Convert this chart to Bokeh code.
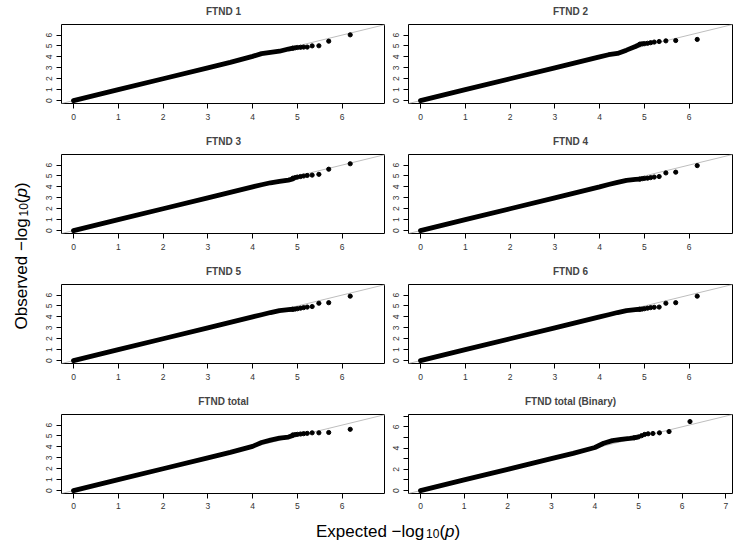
import math
from bokeh.plotting import figure
from bokeh.layouts import gridplot, row, column
from bokeh.models import Range1d, FixedTicker, Slope
from bokeh.core.properties import value
from bokeh.embed import file_html
from bokeh.resources import INLINE

FONT = "Liberation Sans"

titles = ["FTND 1", "FTND 2", "FTND 3", "FTND 4",
          "FTND 5", "FTND 6", "FTND total", "FTND total (Binary)"]

# expected -log10(p) of the densest part (band) and of the top SNPs (tail)
band_x = [0.0, 1.0, 2.0, 3.0, 3.5, 4.0, 4.2, 4.4, 4.6, 4.8, 4.9]
tail_x = [6.18, 5.70, 5.48, 5.33, 5.22, 5.14, 5.07, 5.00, 4.95, 4.90]

band_y = [
    [0.0, 1.0, 2.0, 3.0, 3.5, 4.05, 4.30, 4.42, 4.52, 4.72, 4.80],
    [0.0, 1.0, 2.0, 3.0, 3.5, 4.00, 4.20, 4.32, 4.62, 4.95, 5.15],
    [0.0, 1.0, 2.0, 3.0, 3.5, 4.00, 4.20, 4.38, 4.50, 4.62, 4.72],
    [0.0, 1.0, 2.0, 3.0, 3.5, 4.00, 4.22, 4.42, 4.60, 4.68, 4.72],
    [0.0, 1.0, 2.0, 3.0, 3.5, 4.00, 4.20, 4.40, 4.58, 4.66, 4.70],
    [0.0, 1.0, 2.0, 3.0, 3.5, 4.00, 4.20, 4.40, 4.58, 4.66, 4.70],
    [0.0, 1.0, 2.0, 3.0, 3.5, 4.05, 4.40, 4.62, 4.80, 4.90, 5.05],
    [0.0, 1.0, 2.0, 3.0, 3.5, 4.05, 4.45, 4.70, 4.82, 4.90, 4.95],
]
tail_y = [
    [6.02, 5.44, 5.02, 5.01, 4.90, 4.90, 4.88, 4.86, 4.83, 4.80],
    [5.60, 5.50, 5.47, 5.41, 5.36, 5.30, 5.25, 5.22, 5.20, 5.17],
    [6.12, 5.62, 5.15, 5.08, 5.05, 5.00, 4.95, 4.90, 4.85, 4.80],
    [5.95, 5.35, 5.28, 4.95, 4.90, 4.85, 4.80, 4.78, 4.75, 4.72],
    [5.90, 5.30, 5.25, 4.95, 4.90, 4.85, 4.80, 4.75, 4.72, 4.70],
    [5.90, 5.30, 5.25, 4.90, 4.88, 4.85, 4.80, 4.75, 4.72, 4.70],
    [5.61, 5.32, 5.29, 5.29, 5.24, 5.21, 5.18, 5.15, 5.12, 5.10],
    [6.49, 5.55, 5.43, 5.37, 5.34, 5.28, 5.16, 5.05, 5.00, 4.97],
]

ticks_std = [0, 1, 2, 3, 4, 5, 6]
ticks_last = [0, 1, 2, 3, 4, 5, 6, 7]
y_labels_last = {1: "", 3: "", 5: "", 7: ""}
lim_std = (-0.268, 6.968)
lim_last = (-0.275, 7.155)

xlab_parts = ["Expected  \u2212log", "10", "(", "p", ")"]
ylab_parts = ["Observed  \u2212log", "10", "(", "p", ")"]

# Liberation Sans (Arial metrics) advance widths per 1000 em
ADV = {"E": 667, "x": 500, "p": 556, "e": 556, "c": 500, "t": 278, "d": 556,
       " ": 278, "\u2212": 584, "l": 222, "o": 556, "g": 556, "1": 556,
       "0": 556, "(": 333, ")": 333, "O": 778, "b": 556, "s": 500, "r": 333,
       "v": 500}


def tw(s, size):
    return sum(ADV.get(ch, 556) for ch in s) * size / 1000.0


FRAME_W, FRAME_H = 324, 83
LEFT_W = 31
TOP = 20
BOT = 27
BOT_LAST = 18
COL_BORDERS = [(30, 0), (23, 2)]


def style_axis(ax, standoff):
    ax.axis_line_color = None
    ax.major_tick_line_color = "black"
    ax.major_tick_line_width = 1
    ax.major_tick_out = 5
    ax.major_tick_in = 0
    ax.minor_tick_line_color = None
    ax.major_label_text_font = FONT
    ax.major_label_text_font_size = "8.5px"
    ax.major_label_text_color = "#333333"
    ax.major_label_standoff = standoff


def make_panel(i):
    r, c = divmod(i, 2)
    last = (i == 7)
    lim = lim_last if last else lim_std
    bl, br = COL_BORDERS[c]
    bb = BOT_LAST if r == 3 else BOT
    p = figure(width=bl + FRAME_W + br, height=TOP + FRAME_H + bb,
               x_range=Range1d(*lim), y_range=Range1d(*lim),
               output_backend="svg", toolbar_location=None,
               min_border_left=bl, min_border_right=br,
               min_border_top=TOP, min_border_bottom=bb)
    p.title.text = titles[i]
    p.title.align = "center"
    p.title.vertical_align = "top"
    p.title.text_font = FONT
    p.title.text_font_size = "10px"
    p.title.text_font_style = "bold"
    p.title.text_line_height = 0.8
    p.title.standoff = 11
    p.title.offset = 0
    p.xgrid.visible = False
    p.ygrid.visible = False
    p.outline_line_color = "black"
    p.outline_line_width = 1
    p.outline_line_alpha = 1
    p.background_fill_color = "white"
    p.border_fill_color = "white"
    p.xaxis.ticker = FixedTicker(ticks=ticks_last if last else ticks_std)
    p.yaxis.ticker = FixedTicker(ticks=ticks_last if last else ticks_std)
    if last:
        p.yaxis.major_label_overrides = y_labels_last
    style_axis(p.xaxis[0], 4 if r == 3 else 5)
    style_axis(p.yaxis[0], 4)
    p.yaxis.major_label_orientation = "vertical"
    diag = Slope(gradient=1, y_intercept=0, line_color="#bebebe",
                 line_width=1, level="underlay")
    p.add_layout(diag)
    p.line(band_x, band_y[i], line_width=4.8, line_color="black",
           line_cap="round", line_join="round")
    p.scatter(tail_x, tail_y[i], size=4.2, color="black")
    return p


panels = [make_panel(i) for i in range(8)]
grid = gridplot([panels[0:2], panels[2:4], panels[4:6], panels[6:8]],
                toolbar_location=None)

GRID_H = 3 * (TOP + FRAME_H + BOT) + (TOP + FRAME_H + BOT_LAST)
TOTAL_W = LEFT_W + sum(b[0] + FRAME_W + b[1] for b in COL_BORDERS)
LAB = 17
SUB = 12


def blank(w, h):
    f = figure(width=w, height=h, x_range=Range1d(0, w), y_range=Range1d(0, h),
               output_backend="svg", toolbar_location=None,
               x_axis_type=None, y_axis_type=None, min_border=0)
    f.xgrid.visible = False
    f.ygrid.visible = False
    f.outline_line_color = None
    f.background_fill_color = "white"
    f.border_fill_color = "white"
    return f


SUB_KERN = -2.8


def place_label(f, parts, centre, base, vertical):
    sizes = [LAB, SUB, LAB, LAB, LAB]
    widths = [tw(s, z) for s, z in zip(parts, sizes)]
    anchor = centre - sum(widths) / 2.0 + widths[0]
    # main part right-aligned at the anchor, the rest left-aligned after it
    pos = [anchor, anchor + SUB_KERN]
    acc = anchor + SUB_KERN + widths[1]
    for w in widths[2:]:
        pos.append(acc)
        acc += w
    aligns = ["right", "left", "left", "left", "left"]
    shifts = [0, -2.2, 0, 0, 0]
    styles = ["normal", "normal", "normal", "italic", "normal"]
    for k in range(5):
        if vertical:
            x, y, ang = base - shifts[k], pos[k], math.pi / 2
        else:
            x, y, ang = pos[k], base + shifts[k], 0
        f.text(x=[x], y=[y], text=[parts[k]], angle=ang,
               text_font=value(FONT), text_font_size=value(f"{sizes[k]}px"),
               text_font_style=value(styles[k]), text_color="black",
               text_align=aligns[k], text_baseline="alphabetic")


left = blank(LEFT_W, GRID_H)
place_label(left, ylab_parts, GRID_H - 254, 20.5, True)

BOT_H = 541 - GRID_H
bottom = blank(TOTAL_W, BOT_H)
place_label(bottom, xlab_parts, 389, 10.5, False)

layout = column(row(left, grid, spacing=0), bottom, spacing=0)

open("out.html", "w").write(file_html(layout, INLINE))
